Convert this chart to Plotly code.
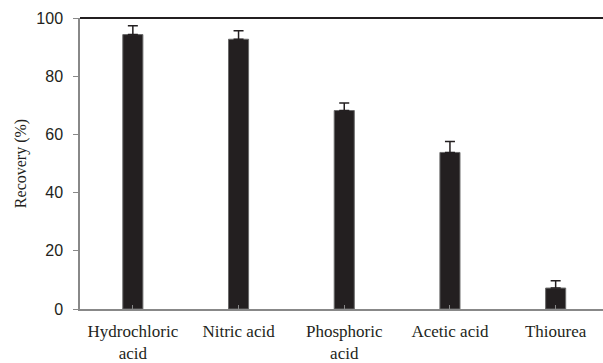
import plotly.graph_objects as go

categories = ["Hydrochloric<br>acid", "Nitric acid", "Phosphoric<br>acid", "Acetic acid", "Thiourea"]
recovery = [94.3, 92.7, 68.2, 53.8, 7.2]
errors = [3.0, 2.9, 2.6, 3.8, 2.5]
y_ticks = [0, 20, 40, 60, 80, 100]

SERIF = "Liberation Serif"
SANS = "Liberation Sans"

fig = go.Figure()
fig.add_trace(go.Bar(
    x=list(range(len(categories))),
    y=recovery,
    width=0.19,
    marker=dict(color="#231f20", line=dict(color="#6a6a6a", width=1)),
    error_y=dict(type="data", symmetric=False, array=errors,
                 arrayminus=[0] * len(errors), color="#231f20",
                 thickness=1.5, width=5),
))

cat_w = 105.7
plot_w = 603 - 80
fig.update_layout(
    width=603, height=363,
    margin=dict(l=80, r=0, t=18, b=52),
    paper_bgcolor="white", plot_bgcolor="white",
    showlegend=False,
    xaxis=dict(
        range=[-0.5, -0.5 + plot_w / cat_w],
        tickmode="array",
        tickvals=list(range(len(categories))),
        ticktext=categories,
        tickson="boundaries",
        ticks="inside", ticklen=4, tickcolor="#888888",
        showline=True, linecolor="#888888", linewidth=1.5,
        showgrid=False, zeroline=False,
        ticklabelstandoff=6,
        tickfont=dict(family=SERIF, size=17, color="#231f20"),
    ),
    yaxis=dict(
        range=[0, 100],
        tickmode="array", tickvals=y_ticks,
        ticks="outside", ticklen=5, tickcolor="#888888",
        showline=True, linecolor="#888888", linewidth=1.5,
        showgrid=False, zeroline=False,
        ticklabelstandoff=7,
        tickfont=dict(family=SANS, size=16, color="#231f20"),
        title=dict(text="Recovery (%)", standoff=6,
                   font=dict(family=SERIF, size=16, color="#231f20")),
    ),
    shapes=[dict(type="line", xref="paper", yref="paper", x0=0, x1=1, y0=1, y1=1,
                 line=dict(color="#231f20", width=2))],
)

fig.write_html("out.html")
